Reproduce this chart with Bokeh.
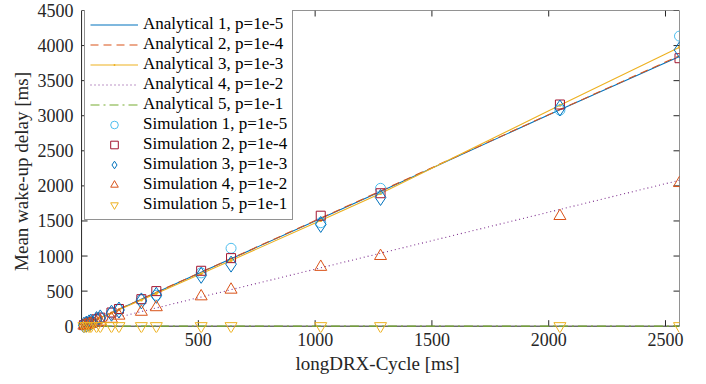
from bokeh.plotting import figure
from bokeh.models import Range1d, FixedTicker, Legend, LegendItem
from bokeh.embed import file_html
from bokeh.resources import INLINE

# ---- data ----
cycles = [10, 20, 32, 40, 64, 80, 128, 160, 256, 320, 512, 640, 1024, 1280, 2048, 2560]

analytical_1 = [15, 30, 48, 60, 96, 120, 192, 240, 384, 480, 768, 960, 1536, 1920, 3085, 3846]
analytical_2 = [15, 30, 48, 60, 96, 121, 193, 241, 386, 482, 771, 964, 1541, 1927, 3088, 3855]
analytical_3 = [14, 29, 46, 58, 93, 117, 187, 234, 373, 467, 748, 937, 1505, 1890, 3150, 3977]
analytical_4 = [8, 16, 26, 32, 52, 65, 104, 130, 208, 260, 416, 520, 832, 1040, 1664, 2080]
analytical_5 = [1, 1, 1, 1, 1, 1, 1, 1, 1, 1, 1, 1, 1, 1, 1, 1]

simulation_1 = [15, 30, 48, 60, 96, 120, 190, 240, 380, 440, 760, 1110, 1475, 1965, 3080, 4135]
simulation_2 = [15, 31, 50, 62, 98, 122, 195, 245, 385, 500, 790, 970, 1575, 1895, 3160, 3820]
simulation_3 = [14, 29, 47, 58, 94, 118, 185, 230, 360, 440, 725, 885, 1450, 1835, 3110, 3940]
simulation_4 = [8, 16, 25, 32, 52, 64, 105, 150, 205, 270, 425, 520, 845, 1000, 1570, 2040]
simulation_5 = [1, 1, 1, 1, 1, 1, 1, 1, 1, 1, 1, 1, 1, 1, 1, 1]

labels_analytical = ["Analytical 1, p=1e-5", "Analytical 2, p=1e-4", "Analytical 3, p=1e-3",
                     "Analytical 4, p=1e-2", "Analytical 5, p=1e-1"]
labels_simulation = ["Simulation 1, p=1e-5", "Simulation 2, p=1e-4", "Simulation 3, p=1e-3",
                     "Simulation 4, p=1e-2", "Simulation 5, p=1e-1"]

x_lim = [0, 2560]
y_lim = [0, 4500]
x_ticks = [500, 1000, 1500, 2000, 2500]
y_ticks = [0, 500, 1000, 1500, 2000, 2500, 3000, 3500, 4000, 4500]

# ---- styling ----
FONT = "Liberation Serif"
AX = "#262626"
BLUE, ORANGE, YELLOW, PURPLE, GREEN = "#0072BD", "#D95319", "#EDB120", "#7E2F8E", "#77AC30"
LBLUE, DRED = "#4DBEEE", "#A2142F"
TICK_LEN = 6

# ranges padded a little below/left so markers at the limits are drawn whole;
# the axes box itself is drawn at the limits
x_pad, y_pad = 26, 90
p = figure(width=706, height=384, output_backend="svg", toolbar_location=None,
           x_range=Range1d(x_lim[0] - x_pad, x_lim[1]), y_range=Range1d(y_lim[0] - y_pad, y_lim[1]),
           min_border_left=75, min_border_right=27, min_border_top=10, min_border_bottom=52)

p.xgrid.visible = False
p.ygrid.visible = False
p.outline_line_color = None
p.background_fill_color = "white"
p.border_fill_color = "white"

xa = p.xaxis[0]
ya = p.yaxis[0]
for ax, ticks in ((xa, x_ticks), (ya, y_ticks)):
    ax.ticker = FixedTicker(ticks=ticks)
    ax.major_tick_line_color = None
    ax.minor_tick_line_color = None
    ax.major_tick_in = 0
    ax.major_tick_out = 0
    ax.axis_line_color = None
    ax.major_label_text_font = FONT
    ax.major_label_text_font_size = "18px"
    ax.major_label_text_color = AX
    ax.axis_label_text_font = FONT
    ax.axis_label_text_font_size = "19px"
    ax.axis_label_text_font_style = "normal"
    ax.axis_label_text_color = AX
xa.axis_label = "longDRX-Cycle [ms]"
ya.axis_label = "Mean wake-up delay [ms]"
xa.major_label_standoff = 0
ya.major_label_standoff = 2
xa.axis_label_standoff = 4
ya.axis_label_standoff = 3

# axes box at the axis limits
p.line([x_lim[0], x_lim[1], x_lim[1], x_lim[0], x_lim[0]],
       [y_lim[0], y_lim[0], y_lim[1], y_lim[1], y_lim[0]], line_color=AX, line_width=1)
# inward ticks on all four sides of the box
p.ray(x=x_ticks, y=[y_lim[0]] * len(x_ticks), length=TICK_LEN, length_units="screen",
      angle=90, angle_units="deg", line_color=AX, line_width=1)
p.ray(x=x_ticks, y=[y_lim[1]] * len(x_ticks), length=TICK_LEN, length_units="screen",
      angle=-90, angle_units="deg", line_color=AX, line_width=1)
p.ray(x=[x_lim[0]] * len(y_ticks), y=y_ticks, length=TICK_LEN, length_units="screen",
      angle=0, angle_units="deg", line_color=AX, line_width=1)
p.ray(x=[x_lim[1]] * len(y_ticks), y=y_ticks, length=TICK_LEN, length_units="screen",
      angle=180, angle_units="deg", line_color=AX, line_width=1)

# ---- analytical lines ----
r_a1 = p.line(cycles, analytical_1, line_color=BLUE, line_width=1.1)
r_a2 = p.line(cycles, analytical_2, line_color=ORANGE, line_width=1.1, line_dash="8 5")
r_a3 = p.line(cycles, analytical_3, line_color=YELLOW, line_width=1.1)
r_a3d = p.scatter(cycles, analytical_3, marker="dot", size=12, line_color=YELLOW, fill_color=YELLOW)
r_a4 = p.line(cycles, analytical_4, line_color=PURPLE, line_width=1.1, line_dash="1 3")
r_a5 = p.line(cycles, analytical_5, line_color=GREEN, line_width=1.1, line_dash="9 4 2 4")

# ---- simulation markers ----
r_s1 = p.scatter(cycles, simulation_1, marker="circle", size=10, fill_color=None, line_color=LBLUE, line_width=1)
r_s2 = p.scatter(cycles, simulation_2, marker="square", size=9, fill_color=None, line_color=DRED, line_width=1)
r_s3 = p.scatter(cycles, simulation_3, marker="diamond", size=16, fill_color=None, line_color=BLUE, line_width=1)
r_s4 = p.scatter(cycles, simulation_4, marker="triangle", size=12, fill_color=None, line_color=ORANGE, line_width=1)
r_s5 = p.scatter(cycles, simulation_5, marker="inverted_triangle", size=12, fill_color=None, line_color=YELLOW, line_width=1)

items = [
    LegendItem(label=labels_analytical[0], renderers=[r_a1]),
    LegendItem(label=labels_analytical[1], renderers=[r_a2]),
    LegendItem(label=labels_analytical[2], renderers=[r_a3, r_a3d]),
    LegendItem(label=labels_analytical[3], renderers=[r_a4]),
    LegendItem(label=labels_analytical[4], renderers=[r_a5]),
    LegendItem(label=labels_simulation[0], renderers=[r_s1]),
    LegendItem(label=labels_simulation[1], renderers=[r_s2]),
    LegendItem(label=labels_simulation[2], renderers=[r_s3]),
    LegendItem(label=labels_simulation[3], renderers=[r_s4]),
    LegendItem(label=labels_simulation[4], renderers=[r_s5]),
]
legend = Legend(items=items, location=(9, 112), padding=5, spacing=-2, margin=0,
                glyph_width=48, glyph_height=19, label_height=19, label_standoff=5,
                label_text_font=FONT, label_text_font_size="17px", label_text_color="black",
                border_line_color=AX, border_line_width=1,
                background_fill_color="white", background_fill_alpha=1)
p.add_layout(legend)

open("out.html", "w").write(file_html(p, INLINE))
